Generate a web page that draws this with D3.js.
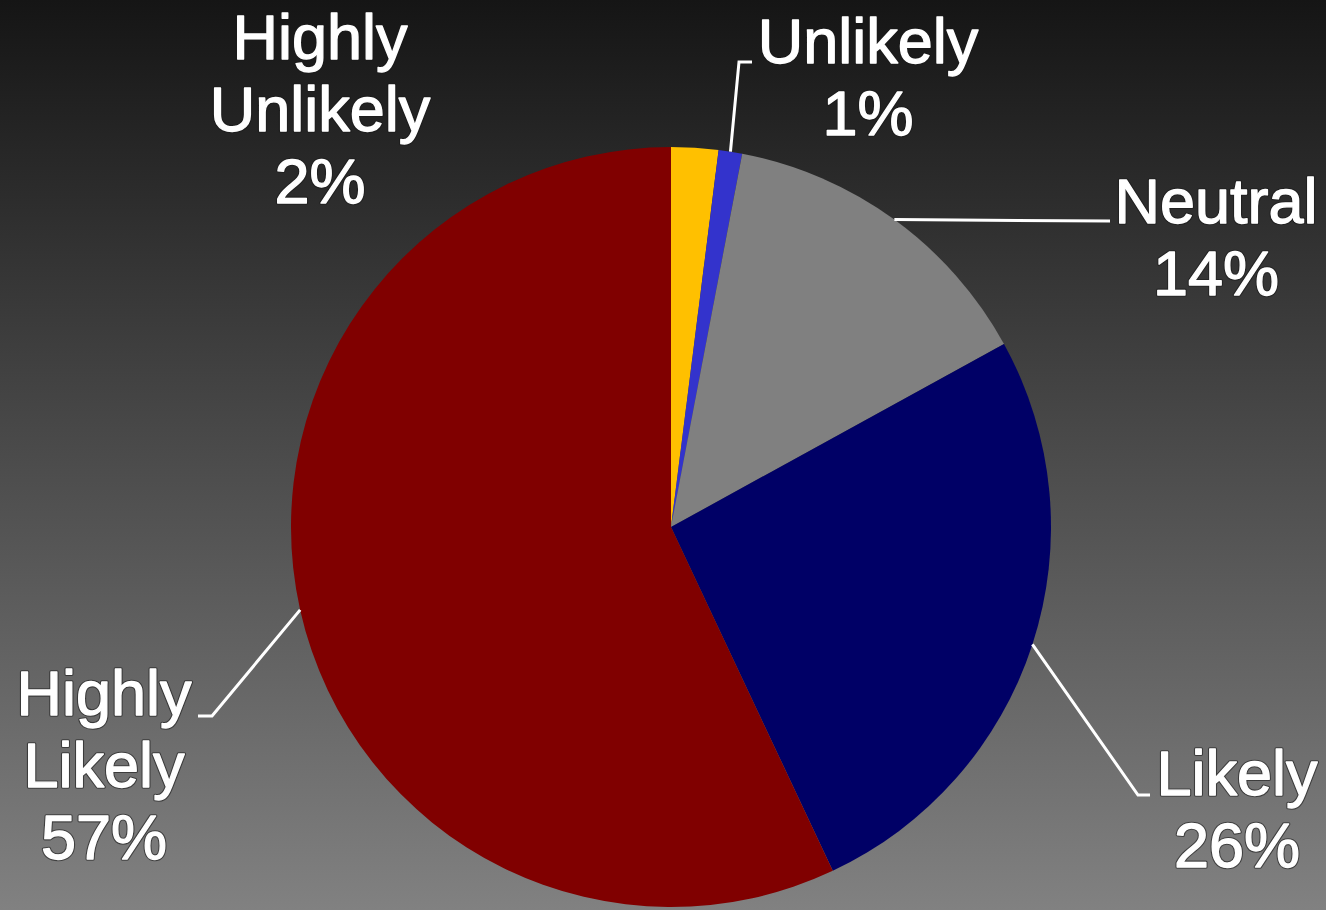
<!DOCTYPE html>
<html>
<head>
<meta charset="utf-8">
<script src="https://cdn.jsdelivr.net/npm/d3@7"></script>
<style>
  html, body { margin: 0; padding: 0; background: #000; }
  svg { display: block; }
  .lbl { font-family: "Liberation Sans", Arial, sans-serif; font-size: 63px; }
  .lbl.halo { fill: #1a1a1a; stroke: #1a1a1a; stroke-width: 3.5px; stroke-linejoin: round; opacity: 0.6; }
  .lbl.face { fill: #fff; stroke: #fff; stroke-width: 1.3px; stroke-linejoin: round; }
</style>
</head>
<body>
<div id="chart"></div>
<script>
'use strict';

// Chart data
const categories = ['Highly Unlikely', 'Unlikely', 'Neutral', 'Likely', 'Highly Likely'];
const percents = [2, 1, 14, 26, 57];
const sliceColors = ['#ffc000', '#3333cc', '#808080', '#000066', '#800000'];

const settings = {
    width: 1326,
    height: 910,
    cx: 671,
    cy: 527,
    radius: 380,
    lineHeight: 72
};

// Label placement (text centre x, first baseline y, leader elbow)
const labelLayout = [
    { x: 320, y: 59, elbow: null, end: null },
    { x: 868, y: 63, elbow: [739, 62], end: [752, 62] },
    { x: 1216, y: 223, elbow: [1110, 221], end: [1110, 221] },
    { x: 1237, y: 795, elbow: [1138, 795], end: [1150, 795] },
    { x: 104, y: 715, elbow: [212, 716], end: [198, 716] }
];

const svg = d3.select('#chart')
    .append('svg')
    .attr('width', settings.width)
    .attr('height', settings.height);

// Background gradient
const grad = svg.append('defs')
    .append('linearGradient')
    .attr('id', 'bg')
    .attr('x1', 0).attr('y1', 0).attr('x2', 0).attr('y2', 1);
grad.append('stop').attr('offset', '0%').attr('stop-color', '#151515');
grad.append('stop').attr('offset', '100%').attr('stop-color', '#818181');

svg.append('rect')
    .attr('width', settings.width)
    .attr('height', settings.height)
    .attr('fill', 'url(#bg)');

const data = categories.map((c, i) => ({ name: c, value: percents[i], color: sliceColors[i] }));

const pie = d3.pie()
    .sort(null)
    .value(d => d.value);

const arc = d3.arc()
    .innerRadius(0)
    .outerRadius(settings.radius);

const edgeArc = d3.arc()
    .innerRadius(settings.radius)
    .outerRadius(settings.radius);

const arcs = pie(data);

const g = svg.append('g')
    .attr('transform', `translate(${settings.cx},${settings.cy})`);

g.selectAll('path.arc')
    .data(arcs)
    .enter()
    .append('path')
    .attr('class', 'arc')
    .attr('d', arc)
    .attr('fill', d => d.data.color);

// Leader lines
const lines = svg.append('g').attr('id', 'leaders');
arcs.forEach((d, i) => {
    const lay = labelLayout[i];
    if (!lay.elbow) return;
    const [ex, ey] = edgeArc.centroid(d);
    const pts = [[settings.cx + ex, settings.cy + ey], lay.elbow, lay.end];
    lines.append('path')
        .attr('d', d3.line()(pts))
        .attr('fill', 'none')
        .attr('stroke', '#fff')
        .attr('stroke-width', 3);
});

// Labels (a dark halo under a slightly heavy white face)
const labels = svg.append('g').attr('id', 'labels');
['halo', 'face'].forEach(layer => {
    arcs.forEach((d, i) => {
        const lay = labelLayout[i];
        const words = d.data.name.split(' ');
        words.push(d3.format('.0f')(d.data.value) + '%');
        const t = labels.append('text')
            .attr('class', 'lbl ' + layer)
            .attr('text-anchor', 'middle')
            .attr('x', lay.x)
            .attr('y', lay.y);
        words.forEach((w, k) => {
            t.append('tspan')
                .attr('x', lay.x)
                .attr('y', lay.y + k * settings.lineHeight)
                .text(w);
        });
    });
});
</script>
</body>
</html>
